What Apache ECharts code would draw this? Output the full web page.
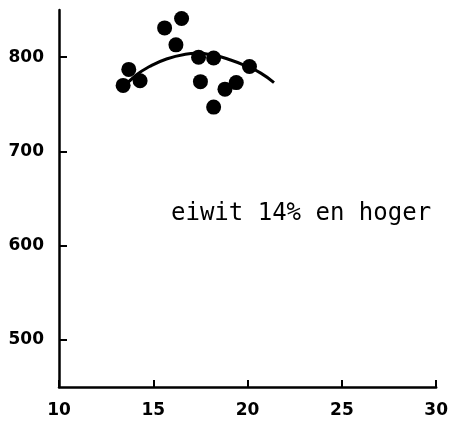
<!DOCTYPE html>
<html>
<head>
<meta charset="utf-8">
<script src="https://cdn.jsdelivr.net/npm/echarts@6/dist/echarts.min.js"></script>
<style>
  html, body { margin: 0; padding: 0; background: #fff; }
  #chart { width: 451px; height: 421px; }
</style>
</head>
<body>
<div id="chart"></div>
<script>
// Measured points: x value and y value for each sample
const pointX = [13.4, 13.7, 14.3, 15.6, 16.5, 16.2, 17.4, 18.2, 17.5, 18.2, 18.8, 19.4, 20.1];
const pointY = [770, 787, 775, 831, 841, 813, 800, 799, 774, 747, 766, 773, 790];

// Fitted trend curve, read along its course
const curveX = [13.2, 14.1, 14.8, 15.7, 16.7, 17.3, 18.2, 19.1, 20.0, 20.7, 21.4];
const curveY = [764, 781, 790, 798, 803, 804, 802, 797, 790, 783, 773];

// Axis ticks
const xTicks = [10, 15, 20, 25, 30];
const yTicks = [500, 600, 700, 800];

const caption = 'eiwit 14% en hoger';

const points = pointX.map((x, i) => [x, pointY[i]]);
const curve = curveX.map((x, i) => [x, curveY[i]]);

const labelFont = {
  fontFamily: 'DejaVu Sans',
  fontWeight: 'bold',
  fontSize: 17,
  color: '#000'
};

const chart = echarts.init(document.getElementById('chart'), null, { renderer: 'canvas' });
chart.setOption({
  animation: false,
  backgroundColor: '#fff',
  grid: { left: 59, right: 13, top: 10, bottom: 34, containLabel: false },
  xAxis: {
    type: 'value',
    min: 10,
    max: 30,
    interval: 5,
    axisLine: { show: true, lineStyle: { color: '#000', width: 2.5 } },
    axisTick: { show: true, inside: true, length: 7, lineStyle: { color: '#000', width: 2 }, customValues: xTicks },
    axisLabel: Object.assign({ margin: 15, customValues: xTicks }, labelFont),
    splitLine: { show: false }
  },
  yAxis: {
    type: 'value',
    min: 450,
    max: 850,
    axisLine: { show: true, lineStyle: { color: '#000', width: 2.5 } },
    axisTick: { show: true, inside: true, length: 8, lineStyle: { color: '#000', width: 2 }, customValues: yTicks },
    axisLabel: Object.assign({ margin: 15, customValues: yTicks }, labelFont),
    splitLine: { show: false }
  },
  graphic: [{
    type: 'text',
    left: 171,
    top: 202,
    style: {
      text: caption,
      fontFamily: 'DejaVu Sans Mono',
      fontSize: 24,
      fill: '#000'
    }
  }],
  series: [
    {
      type: 'line',
      data: curve,
      smooth: true,
      showSymbol: false,
      lineStyle: { color: '#000', width: 3 },
      z: 2
    },
    {
      type: 'scatter',
      data: points,
      symbol: 'circle',
      symbolSize: 15,
      itemStyle: { color: '#000', opacity: 1 },
      z: 3
    }
  ]
});
</script>
</body>
</html>
